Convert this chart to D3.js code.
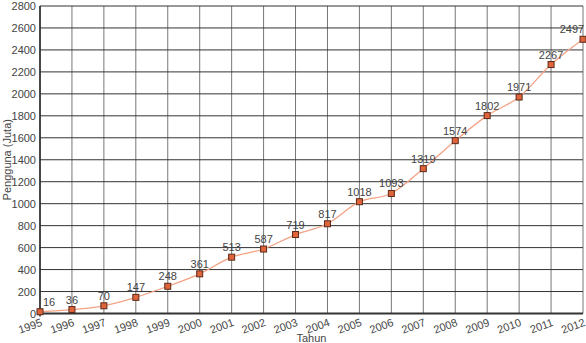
<!DOCTYPE html>
<html><head><meta charset="utf-8">
<script src="https://cdn.jsdelivr.net/npm/d3@7"></script>
<style>body{margin:0;background:#fff}text{font-family:"Liberation Sans",Arial,sans-serif}</style>
</head><body>
<svg id="c" width="586" height="343"></svg>
<script>
const years = [1995,1996,1997,1998,1999,2000,2001,2002,2003,2004,2005,2006,2007,2008,2009,2010,2011,2012];
const users = [16,36,70,147,248,361,513,587,719,817,1018,1093,1319,1574,1802,1971,2267,2497];
const yTicks = [0,200,400,600,800,1000,1200,1400,1600,1800,2000,2200,2400,2600,2800];
const xTitle = "Tahun";
const yTitle = "Pengguna (Juta)";

const svg = d3.select("#c");
const m = {l:40, r:3, t:6, b:29.5};
const W = 586, H = 343;
const x = d3.scaleLinear().domain([1995,2012]).range([m.l, W-m.r]);
const y = d3.scaleLinear().domain([0,2800]).range([H-m.b, m.t]);

// vertical grid
svg.append("g").selectAll("line").data(years).join("line")
  .attr("x1",d=>x(d)).attr("x2",d=>x(d)).attr("y1",y(0)).attr("y2",y(2800))
  .attr("stroke","#777").attr("stroke-width",1);
// horizontal grid
svg.append("g").selectAll("line").data(yTicks).join("line")
  .attr("x1",x(1995)).attr("x2",x(2012)).attr("y1",d=>y(d)).attr("y2",d=>y(d))
  .attr("stroke","#333").attr("stroke-width",1);
// axes
svg.append("line").attr("x1",x(1995)-3).attr("x2",x(2012)).attr("y1",y(0)).attr("y2",y(0)).attr("stroke","#333").attr("stroke-width",2);
svg.append("line").attr("x1",x(1995)).attr("x2",x(1995)).attr("y1",y(0)+3).attr("y2",y(2800)).attr("stroke","#222").attr("stroke-width",1.5);

// y tick labels
svg.append("g").selectAll("text").data(yTicks).join("text")
  .attr("x",m.l-4).attr("y",d=>y(d)+4).attr("text-anchor","end")
  .attr("font-size",11).attr("fill","#444").text(d=>d);
// x tick labels
svg.append("g").selectAll("text").data(years).join("text")
  .attr("text-anchor","end").attr("font-size",11).attr("fill","#444")
  .attr("transform",d=>`translate(${x(d)+3},${y(0)+12}) rotate(-20)`).text(d=>d);

svg.append("text").attr("x",(x(1995)+x(2012))/2).attr("y",H-1).attr("text-anchor","middle")
  .attr("font-size",11).attr("fill","#444").text(xTitle);
svg.append("text").attr("transform",`translate(11,${(y(0)+y(2800))/2}) rotate(-90)`)
  .attr("text-anchor","middle").attr("font-size",11).attr("fill","#444").text(yTitle);

// line
const line = d3.line().x((d,i)=>x(years[i])).y(d=>y(d)).curve(d3.curveMonotoneX);
svg.append("path").datum(users).attr("d",line).attr("fill","none").attr("stroke","#f4a285").attr("stroke-width",1.3);

// markers
svg.append("g").selectAll("rect").data(users).join("rect")
  .attr("x",(d,i)=>x(years[i])-3).attr("y",d=>y(d)-3).attr("width",6).attr("height",6)
  .attr("fill","#e0643a").attr("stroke","#5a2a1a").attr("stroke-width",1);

// value labels
svg.append("g").selectAll("text").data(users).join("text")
  .attr("x",(d,i)=>{const px=x(years[i]); return i===0?px+9:(i===users.length-1?px-11:px);})
  .attr("y",d=>y(d)-6).attr("text-anchor","middle").attr("font-size",11).attr("fill","#444")
  .text(d=>d);
</script>
</body></html>
